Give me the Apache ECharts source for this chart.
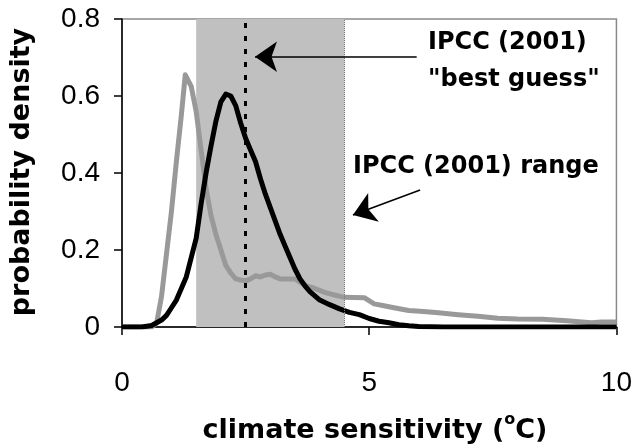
<!DOCTYPE html>
<html>
<head>
<meta charset="utf-8">
<script src="https://cdn.jsdelivr.net/npm/echarts@6/dist/echarts.min.js"></script>
<style>html,body{margin:0;padding:0;background:#fff}#c{width:635px;height:448px}</style>
</head>
<body>
<div id="c"></div>
<script>
// ---- data ----
const grayX = [0, 0.6, 0.7, 0.8, 0.9, 1.0, 1.1, 1.2, 1.28, 1.4, 1.5, 1.6, 1.7, 1.8, 1.9, 2.0, 2.1, 2.2, 2.3, 2.4, 2.5, 2.6, 2.7, 2.8, 2.9, 3.0, 3.1, 3.2, 3.5, 3.7, 3.9, 4.1, 4.3, 4.5, 4.9, 5.1, 5.3, 5.5, 5.8, 6.1, 6.4, 6.8, 7.2, 7.6, 8.0, 8.5, 9.0, 9.3, 9.5, 9.7, 10];
const grayY = [0, 0, 0.01, 0.08, 0.19, 0.3, 0.43, 0.55, 0.655, 0.625, 0.56, 0.46, 0.36, 0.29, 0.24, 0.2, 0.16, 0.14, 0.125, 0.122, 0.12, 0.125, 0.133, 0.13, 0.135, 0.137, 0.13, 0.125, 0.125, 0.108, 0.1, 0.09, 0.083, 0.077, 0.076, 0.06, 0.055, 0.05, 0.043, 0.04, 0.037, 0.032, 0.028, 0.023, 0.021, 0.02, 0.016, 0.013, 0.011, 0.013, 0.013];
const blackX = [0, 0.4, 0.6, 0.8, 0.9, 1.0, 1.1, 1.2, 1.3, 1.4, 1.5, 1.6, 1.7, 1.8, 1.9, 2.0, 2.1, 2.2, 2.3, 2.4, 2.5, 2.6, 2.7, 2.8, 2.9, 3.0, 3.1, 3.2, 3.3, 3.4, 3.5, 3.6, 3.7, 3.8, 3.9, 4.0, 4.2, 4.4, 4.6, 4.8, 5.0, 5.2, 5.4, 5.6, 5.8, 6.0, 6.5, 10];
const blackY = [0, 0, 0.004, 0.018, 0.03, 0.05, 0.07, 0.1, 0.13, 0.18, 0.23, 0.32, 0.4, 0.47, 0.535, 0.585, 0.605, 0.6, 0.575, 0.53, 0.49, 0.46, 0.43, 0.385, 0.345, 0.31, 0.275, 0.24, 0.21, 0.18, 0.15, 0.125, 0.107, 0.092, 0.081, 0.07, 0.058, 0.047, 0.038, 0.032, 0.022, 0.015, 0.011, 0.006, 0.003, 0.001, 0, 0];
const ipccRange = [1.5, 4.5];
const bestGuess = 2.5;
const xTickValues = [0, 5, 10];
const yTickValues = [0, 0.2, 0.4, 0.6, 0.8];
const arrowBest = [[5.96, 0.702], [2.69, 0.702]];
const arrowRange = [[6.03, 0.356], [4.67, 0.291]];
const xTitle = 'climate sensitivity (';
const yTitle = 'probability density';
const labelBest = ['IPCC (2001)', '"best guess"'];
const labelRange = 'IPCC (2001) range';

const pairs = (xs, ys) => xs.map((x, i) => [x, ys[i]]);
const TF = '"DejaVu Sans", sans-serif';
const TICKF = '"Liberation Sans", Arial, sans-serif';

const chart = echarts.init(document.getElementById('c'), null, {renderer: 'canvas'});
chart.setOption({
  animation: false,
  grid: {left: 122, right: 18, top: 19, bottom: 121, containLabel: false, show: true, borderColor: '#8a8a8a', borderWidth: 1.5, backgroundColor: 'transparent'},
  xAxis: {
    type: 'value', min: xTickValues[0], max: xTickValues[xTickValues.length - 1], interval: xTickValues[1] - xTickValues[0],
    axisLine: {show: true, lineStyle: {color: '#000', width: 1.5}},
    axisTick: {show: true, inside: false, length: 8, lineStyle: {color: '#000', width: 1.5}},
    axisLabel: {fontFamily: TICKF, fontSize: 28, color: '#000', margin: 42},
    splitLine: {show: false}
  },
  yAxis: {
    type: 'value', min: yTickValues[0], max: yTickValues[yTickValues.length - 1], interval: yTickValues[1] - yTickValues[0],
    axisLine: {show: true, lineStyle: {color: '#000', width: 1.5}},
    axisTick: {show: true, inside: false, length: 8, lineStyle: {color: '#000', width: 1.5}},
    axisLabel: {fontFamily: TICKF, fontSize: 28, color: '#000', margin: 22},
    splitLine: {show: false}
  },
  series: [
    {
      type: 'line', data: [], z: 1, silent: true,
      markArea: {silent: true, itemStyle: {color: '#c0c0c0'}, data: [[{xAxis: ipccRange[0]}, {xAxis: ipccRange[1]}]]},
      markLine: {silent: true, symbol: ['none', 'none'], label: {show: false},
        lineStyle: {color: '#777', width: 1, type: 'dotted'},
        data: [{xAxis: ipccRange[1]}]}
    },
    {
      name: 'gray', type: 'line', data: pairs(grayX, grayY), z: 2, showSymbol: false, symbol: 'none',
      lineStyle: {color: '#999999', width: 5, join: 'round'}
    },
    {
      name: 'black', type: 'line', data: pairs(blackX, blackY), z: 3, showSymbol: false, symbol: 'none',
      lineStyle: {color: '#000', width: 5, join: 'round'}
    },
    {
      type: 'line', data: [], z: 4, silent: true,
      markLine: {
        silent: true, label: {show: false}, animation: false,
        symbol: ['none', 'none'],
        data: [
          {xAxis: bestGuess, lineStyle: {color: '#000', width: 3, type: [5, 8]}},
          [{coord: arrowBest[0], symbol: 'none'}, {coord: arrowBest[1], symbol: 'arrow', symbolSize: [23, 22]}],
          [{coord: arrowRange[0], symbol: 'none'}, {coord: arrowRange[1], symbol: 'arrow', symbolSize: [23, 22]}]
        ],
        lineStyle: {color: '#000', width: 1.5, type: 'solid'}
      }
    }
  ],
  graphic: [
    {type: 'text', x: 428, y: 43, style: {text: labelBest[0], font: 'bold 24px ' + TF, fill: '#000', textAlign: 'left', textVerticalAlign: 'middle'}},
    {type: 'text', x: 428, y: 80, style: {text: labelBest[1], font: 'bold 24px ' + TF, fill: '#000', textAlign: 'left', textVerticalAlign: 'middle'}},
    {type: 'text', x: 353, y: 167, style: {text: labelRange, font: 'bold 24px ' + TF, fill: '#000', textAlign: 'left', textVerticalAlign: 'middle'}},
    {type: 'text', x: 22, y: 172, rotation: Math.PI / 2, style: {text: yTitle, font: 'bold 27px ' + TF, fill: '#000', textAlign: 'center', textVerticalAlign: 'middle'}},
    {type: 'text', x: 375, y: 428, style: {
      text: '{m|' + xTitle + '}{s|o}{m|C)}', textAlign: 'center', textVerticalAlign: 'middle',
      rich: {
        m: {fontFamily: TF, fontWeight: 'bold', fontSize: 27, fill: '#000', color: '#000', lineHeight: 32, verticalAlign: 'bottom'},
        s: {fontFamily: TF, fontWeight: 'bold', fontSize: 16, fill: '#000', color: '#000', lineHeight: 32, verticalAlign: 'top'}
      }
    }}
  ]
});
</script>
</body>
</html>
